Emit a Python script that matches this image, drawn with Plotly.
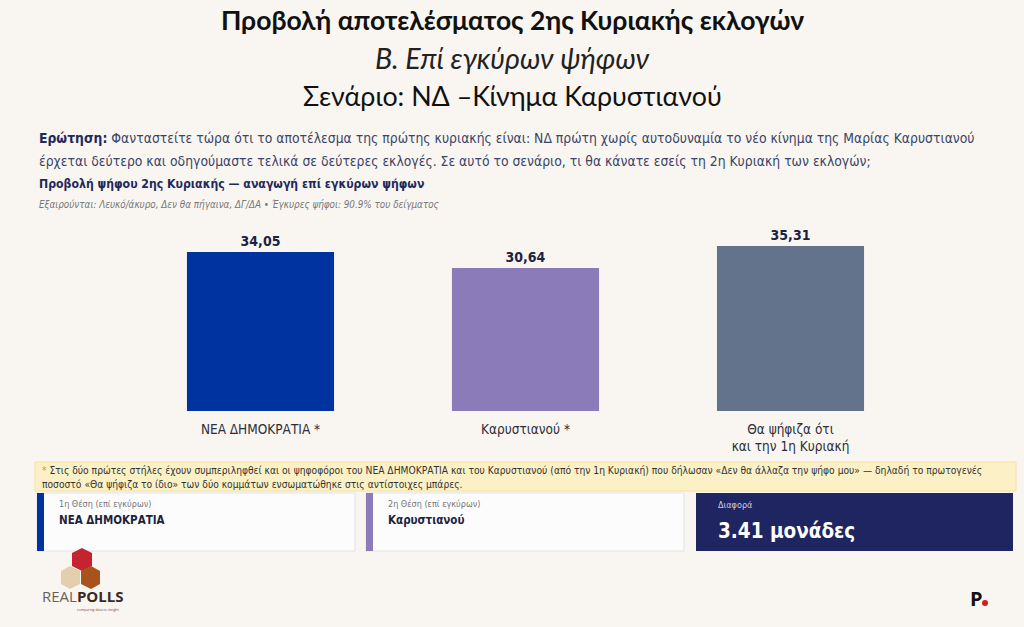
import plotly.graph_objects as go

W, H = 1024, 627

# ---- data ----
categories = ["ΝΕΑ ΔΗΜΟΚΡΑΤΙΑ *", "Καρυστιανού *", "Θα ψήφιζα ότι<br>και την 1η Κυριακή"]
values = [34.05, 30.64, 35.31]
bar_colors = ["#0033a0", "#8c7bb9", "#64738c"]
first_place = "ΝΕΑ ΔΗΜΟΚΡΑΤΙΑ"
second_place = "Καρυστιανού"
difference = 3.41

BG = "#f9f6f1"
NAVY = "#1f2a5c"
COND = "DejaVu Sans Condensed, Liberation Sans Narrow, sans-serif"
TITLEF = "Lato, DejaVu Sans, sans-serif"


def px(x):
    return x / W


def py(y):
    return 1 - y / H


fig = go.Figure()
fig.add_trace(go.Bar(
    x=categories, y=values,
    marker=dict(color=bar_colors, line=dict(width=0)),
    width=0.555,
    text=[f"<b>{v:.2f}</b>".replace(".", ",") for v in values],
    textposition="outside",
    textfont=dict(family=COND, size=14, color="#1c2340"),
    cliponaxis=False,
    hoverinfo="skip",
))

y_top_px, y_base_px = 225, 411
ymax = (y_base_px - y_top_px) / 4.67

fig.update_layout(
    width=W, height=H,
    margin=dict(l=0, r=0, t=0, b=0),
    paper_bgcolor=BG, plot_bgcolor=BG,
    showlegend=False,
    xaxis=dict(domain=[px(128), px(923)], range=[-0.5, 2.5], showgrid=False,
               zeroline=False, showline=False, ticks="", ticklabelstandoff=8,
               tickfont=dict(family=COND, size=13.5, color="#2b2f3a")),
    yaxis=dict(domain=[py(y_base_px), py(y_top_px)], range=[0, ymax], visible=False),
    bargap=0.445,
)

ann = []
shapes = []


def text(x, y, s, size, color, family=COND, xanchor="left", yanchor="middle"):
    ann.append(dict(x=px(x), y=py(y), xref="paper", yref="paper", text=s, showarrow=False,
                    xanchor=xanchor, yanchor=yanchor, align="left",
                    font=dict(family=family, size=size, color=color)))


# titles
text(512, 20, "<b>Προβολή αποτελέσματος 2ης Κυριακής εκλογών</b>", 26.5, "#111111", TITLEF, "center")
text(512, 58, "<i>Β. Επί εγκύρων ψήφων</i>", 28.5, "#222222", TITLEF, "center")
text(512, 96, "Σενάριο: ΝΔ –Κίνημα Καρυστιανού", 26.8, "#111111", TITLEF, "center")

# question
text(37, 138, "<b><span style='color:#1f2a5c'>Ερώτηση:</span></b> Φανταστείτε τώρα ότι το αποτέλεσμα της πρώτης κυριακής είναι: ΝΔ πρώτη χωρίς αυτοδυναμία το νέο κίνημα της Μαρίας Καρυστιανού",
     13.8, "#3b4468")
text(37, 161, "έρχεται δεύτερο και οδηγούμαστε τελικά σε δεύτερες εκλογές. Σε αυτό το σενάριο, τι θα κάνατε εσείς τη 2η Κυριακή των εκλογών;",
     13.8, "#3b4468")
text(37, 184, "<b>Προβολή ψήφου 2ης Κυριακής — αναγωγή επί εγκύρων ψήφων</b>", 12.2, NAVY)
text(37, 205, "<i>Εξαιρούνται: Λευκό/άκυρο, Δεν θα πήγαινα, ΔΓ/ΔΑ • Έγκυρες ψήφοι: 90.9% του δείγματος</i>", 9.8, "#777777")

# footnote box
shapes.append(dict(type="rect", xref="paper", yref="paper", x0=px(35), x1=px(1016), y0=py(491), y1=py(462),
                   fillcolor="#fcf1c6", line=dict(width=1, color="#f3e3a0"), layer="below"))
text(40, 470, "<span style='color:#c9a227'>*</span> Στις δύο πρώτες στήλες έχουν συμπεριληφθεί και οι ψηφοφόροι του ΝΕΑ ΔΗΜΟΚΡΑΤΙΑ και του Καρυστιανού (από την 1η Κυριακή) που δήλωσαν «Δεν θα άλλαζα την ψήφο μου» — δηλαδή το πρωτογενές",
     10.2, "#333333")
text(40, 484, "ποσοστό «Θα ψήφιζα το ίδιο» των δύο κομμάτων ενσωματώθηκε στις αντίστοιχες μπάρες.", 10.2, "#333333")

# cards
cards = [(37, 355, "#0033a0", "1η Θέση (επί εγκύρων)", first_place),
         (366, 684, "#8c7bb9", "2η Θέση (επί εγκύρων)", second_place)]
for x0, x1, c, lab, name in cards:
    shapes.append(dict(type="rect", xref="paper", yref="paper", x0=px(x0), x1=px(x1), y0=py(551), y1=py(493),
                       fillcolor="#fcfcfd", line=dict(width=1, color="#e4e4ea"), layer="below"))
    shapes.append(dict(type="rect", xref="paper", yref="paper", x0=px(x0), x1=px(x0 + 7), y0=py(551), y1=py(493),
                       fillcolor=c, line=dict(width=0), layer="below"))
    text(x0 + 20, 504, lab, 9, "#777777")
    text(x0 + 20, 520, f"<b>{name}</b>", 11.5, "#1c2340")

shapes.append(dict(type="rect", xref="paper", yref="paper", x0=px(696), x1=px(1013), y0=py(551), y1=py(493),
                   fillcolor="#1e2560", line=dict(width=0), layer="below"))
text(716, 505, "Διαφορά", 9, "#c9cbe0")
text(716, 531, f"<b>{difference:.2f} μονάδες</b>", 20.5, "#ffffff")


# REALPOLLS logo (approximate)
def poly(points, color):
    d = "M " + " L ".join(f"{px(x)},{py(y)}" for x, y in points) + " Z"
    shapes.append(dict(type="path", xref="paper", yref="paper", path=d, fillcolor=color, line=dict(width=0)))


poly([(82, 548), (92, 553), (92, 566), (82, 571), (72, 566), (72, 553)], "#c4232f")
poly([(70, 566), (80, 571), (80, 584), (70, 589), (61, 584), (61, 571)], "#e3cfae")
poly([(91, 566), (100, 571), (100, 584), (91, 589), (81, 584), (81, 571)], "#a8521e")
text(40, 596, "REAL<b><span style='color:#3a2a25'>POLLS</span></b>", 15, "#6b5f5a", "Open Sans, sans-serif")
text(75, 609, "comparing data to insight", 3.5, "#8a3b2a", "Open Sans, sans-serif")

# P. logo
text(968, 598, "<b>P</b>", 20, "#111111", "Open Sans, sans-serif")
shapes.append(dict(type="circle", xref="paper", yref="paper", x0=px(982), x1=px(988), y0=py(606), y1=py(600),
                   fillcolor="#d71920", line=dict(width=0)))

fig.update_layout(annotations=ann, shapes=shapes)
fig.write_html("out.html", config={"displayModeBar": False},
               post_script="document.body.style.margin='0';document.body.style.overflow='hidden';")
